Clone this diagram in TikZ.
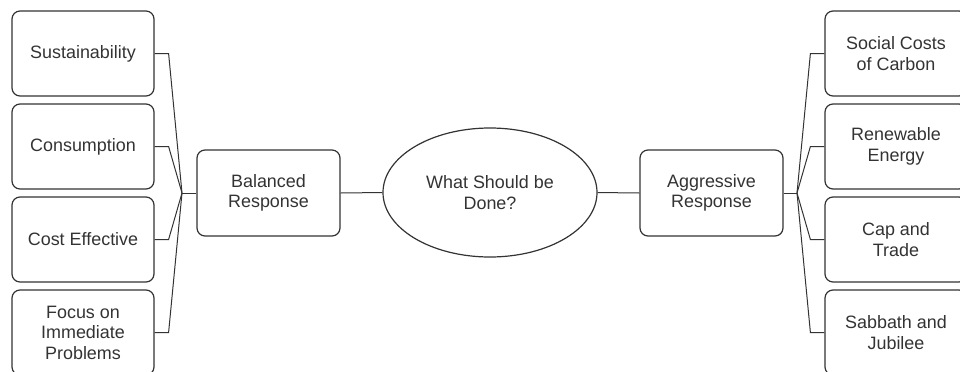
\documentclass[tikz,border=0pt]{standalone}
\usepackage{fontspec}
\setmainfont{Liberation Sans}
\usetikzlibrary{shapes.geometric}
\definecolor{ink}{HTML}{333333}
\tikzset{
  leaf/.style={draw=ink, line width=1.2bp, rounded corners=8bp, minimum width=142bp,
    minimum height=85bp, align=center, text=ink, font=\fontsize{18}{20.5}\selectfont},
  hub/.style={leaf, minimum width=143bp, minimum height=86bp},
  link/.style={draw=ink, line width=1bp}
}
\begin{document}
\begin{tikzpicture}[x=1bp, y=-1bp]
  \useasboundingbox (0,0) rectangle (960,371);
  \clip (0,0) rectangle (960,371);

  % centre
  \node[ellipse, draw=ink, line width=1.2bp, minimum width=214bp, minimum height=129bp,
    align=center, text=ink, font=\fontsize{18}{20.5}\selectfont] (what) at (490,192.5)
    {What Should be\\Done?};
  \node[hub] (bal) at (268.5,193) {Balanced\\Response};
  \node[hub] (agg) at (711.5,193) {Aggressive\\Response};
  \draw[link] (bal.east) -- (what.west);
  \draw[link] (what.east) -- (agg.west);

  % left branch
  \coordinate (jl) at (182,193);
  \foreach \txt [count=\i] in {Sustainability, Consumption, Cost Effective,
      {Focus on\\Immediate\\Problems}}
    {
      \node[leaf] (ls\i) at (83,{53.5+93*(\i-1)}) {\txt};
      \draw[link] (ls\i.east) -- ++(14,0) -- (jl);
    }
  \draw[link] (jl) -- (bal.west);

  % right branch
  \coordinate (jr) at (797,193);
  \foreach \txt [count=\i] in {{Social Costs\\of Carbon}, {Renewable\\Energy},
      {Cap and\\Trade}, {Sabbath and\\Jubilee}}
    {
      \node[leaf] (rs\i) at (896,{53.5+93*(\i-1)}) {\txt};
      \draw[link] (jr) -- ([xshift=-14bp]rs\i.west) -- (rs\i.west);
    }
  \draw[link] (agg.east) -- (jr);
\end{tikzpicture}
\end{document}
